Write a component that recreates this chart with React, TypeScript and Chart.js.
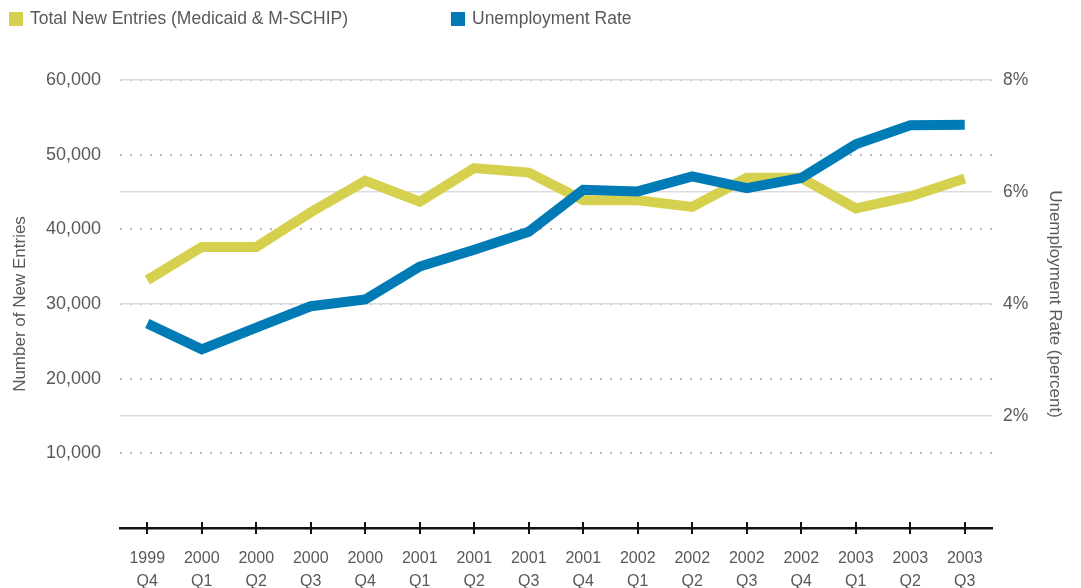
import React, { useEffect, useRef } from 'react';
import { Chart, registerables } from 'chart.js';

Chart.register(...registerables);

const categories: string[][] = [
  ['1999', 'Q4'], ['2000', 'Q1'], ['2000', 'Q2'], ['2000', 'Q3'], ['2000', 'Q4'],
  ['2001', 'Q1'], ['2001', 'Q2'], ['2001', 'Q3'], ['2001', 'Q4'],
  ['2002', 'Q1'], ['2002', 'Q2'], ['2002', 'Q3'], ['2002', 'Q4'],
  ['2003', 'Q1'], ['2003', 'Q2'], ['2003', 'Q3'],
];

const newEntries: number[] = [
  33200, 37650, 37650, 42300, 46500, 43700, 48200, 47600,
  43900, 43900, 43000, 46900, 46900, 42800, 44400, 46800,
];

const unemploymentRate: number[] = [
  3.65, 3.19, 3.58, 3.96, 4.08, 4.67, 4.97, 5.29,
  6.04, 6.01, 6.28, 6.07, 6.25, 6.85, 7.19, 7.2,
];

const seriesNames: string[] = ['Total New Entries (Medicaid & M-SCHIP)', 'Unemployment Rate'];
const seriesColors: string[] = ['#d6d04f', '#007bb6'];

const leftAxisTitle = 'Number of New Entries';
const rightAxisTitle = 'Unemployment Rate (percent)';

const FONT = "'Liberation Sans', Arial, Helvetica, sans-serif";
const TEXT = '#595959';

const crossTicks = {
  id: 'crossTicks',
  afterDraw(chart: any) {
    const x = chart.scales.x;
    const ctx = chart.ctx;
    ctx.save();
    ctx.strokeStyle = '#111111';
    ctx.lineWidth = 2;
    x.ticks.forEach((_t: any, i: number) => {
      const px = Math.round(x.getPixelForTick(i));
      ctx.beginPath();
      ctx.moveTo(px, x.top - 6);
      ctx.lineTo(px, x.top + 6);
      ctx.stroke();
    });
    ctx.restore();
  },
};

const topLegend = {
  id: 'topLegend',
  afterDraw(chart: any) {
    const ctx = chart.ctx;
    const items = [
      { box: 9, text: 30 },
      { box: 451, text: 472 },
    ];
    ctx.save();
    ctx.font = `17.5px ${FONT}`;
    ctx.textBaseline = 'middle';
    ctx.textAlign = 'left';
    items.forEach((it, i) => {
      ctx.fillStyle = seriesColors[i];
      ctx.fillRect(it.box, 12, 14, 14);
      ctx.fillStyle = TEXT;
      ctx.fillText(seriesNames[i], it.text, 19);
    });
    ctx.restore();
  },
};

export default function App() {
  const ref = useRef<HTMLCanvasElement | null>(null);

  useEffect(() => {
    if (!ref.current) return;
    Chart.defaults.font.family = FONT;
    Chart.defaults.color = TEXT;
    const chart = new Chart(ref.current, {
      type: 'line',
      data: {
        labels: categories,
        datasets: [
          {
            label: seriesNames[0],
            data: newEntries,
            yAxisID: 'y',
            borderColor: seriesColors[0],
            backgroundColor: seriesColors[0],
            borderWidth: 10,
            pointRadius: 0,
            tension: 0,
            borderCapStyle: 'butt',
            borderJoinStyle: 'miter',
            order: 1,
          },
          {
            label: seriesNames[1],
            data: unemploymentRate,
            yAxisID: 'y1',
            borderColor: seriesColors[1],
            backgroundColor: seriesColors[1],
            borderWidth: 10,
            pointRadius: 0,
            tension: 0,
            borderCapStyle: 'butt',
            borderJoinStyle: 'miter',
            order: 0,
          },
        ],
      },
      options: {
        responsive: false,
        animation: false,
        devicePixelRatio: 1,
        layout: { padding: { top: 80, left: 0, right: 0, bottom: 0 } },
        plugins: {
          legend: { display: false },
          tooltip: { enabled: false },
        },
        scales: {
          x: {
            offset: true,
            grid: { display: false, drawTicks: false },
            border: { display: true, color: '#111111', width: 2.5 },
            ticks: {
              padding: 19,
              color: TEXT,
              font: { size: 16, lineHeight: 1.44 },
              maxRotation: 0,
              autoSkip: false,
            },
            afterFit(scale: any) {
              scale.height = 60;
            },
          },
          y: {
            position: 'left',
            min: 0,
            max: 60000,
            grid: { color: '#b8b8b8', lineWidth: 2, drawTicks: false },
            border: { display: false, dash: [2, 8] },
            ticks: {
              stepSize: 10000,
              padding: 19,
              color: TEXT,
              font: { size: 18 },
              callback: (v: any) => (v === 0 ? null : Number(v).toLocaleString('en-US')),
            },
            title: {
              display: true,
              text: leftAxisTitle,
              color: TEXT,
              font: { size: 17 },
              padding: { top: 10, bottom: 0 },
            },
            afterFit(scale: any) {
              scale.width = 120;
            },
          },
          y1: {
            position: 'right',
            min: 0,
            max: 8,
            grid: { color: '#dcdcdc', lineWidth: 1.5, drawTicks: false },
            border: { display: false },
            ticks: {
              stepSize: 2,
              padding: 11,
              color: TEXT,
              font: { size: 17.5 },
              callback: (v: any) => (v === 0 ? null : `${v}%`),
            },
            title: {
              display: true,
              text: rightAxisTitle,
              color: TEXT,
              font: { size: 17 },
              padding: { top: 16, bottom: 0 },
            },
            afterFit(scale: any) {
              scale.width = 89;
            },
          },
        },
      },
      plugins: [crossTicks, topLegend],
    } as any);
    return () => chart.destroy();
  }, []);

  return (
    <div style={{ position: 'fixed', left: 0, top: 0, width: 1081, height: 588, background: '#ffffff' }}>
      <canvas ref={ref} width={1081} height={588} style={{ width: 1081, height: 588, display: 'block' }} />
    </div>
  );
}
